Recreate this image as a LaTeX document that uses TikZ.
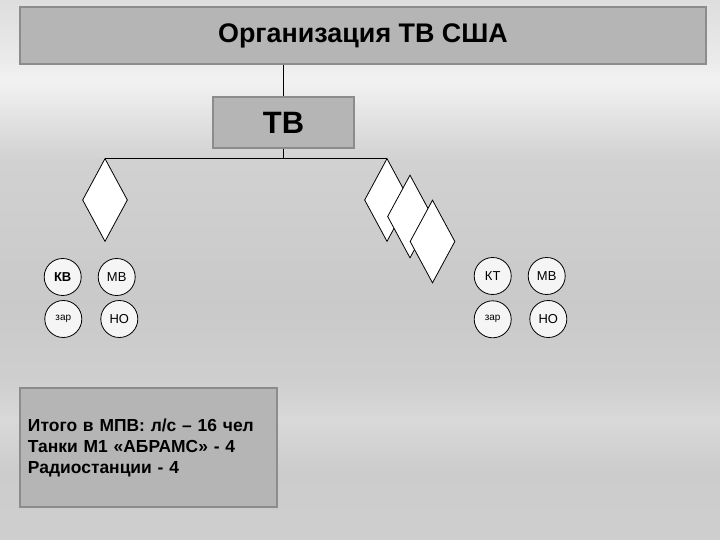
\documentclass[tikz,border=0pt]{standalone}
\usepackage{fontspec}
\setmainfont{Liberation Sans}
\usetikzlibrary{shapes.geometric}
\tikzset{
  graybox/.style={draw=black!45, line width=1.2bp, fill=black!29, inner sep=0pt},
  rhomb/.style={shape=diamond, draw=black, line width=0.8bp, fill=white, minimum width=45bp, minimum height=83bp, inner sep=0pt},
  unit/.style={shape=circle, draw=black, line width=0.8bp, fill=black!4, minimum size=37bp, inner sep=0pt, font=\fontsize{13}{15}\selectfont},
  link/.style={draw=black, line width=0.8bp}
}
\begin{document}
\begin{tikzpicture}[x=1bp, y=-1bp]
\useasboundingbox (0,0) rectangle (720,540);
% background (sky-like vertical gradient drawn as strips)
\foreach \ya/\yb/\ga/\gb in {0/60/0.87/0.92, 60/80/0.92/0.95, 80/110/0.95/0.90, 110/160/0.90/0.82, 160/300/0.82/0.79, 300/380/0.79/0.81, 380/420/0.81/0.85, 420/470/0.85/0.80, 470/540/0.80/0.81}{
  \pgfmathtruncatemacro\n{(\yb-\ya)/2-1}
  \foreach \i in {0,...,\n}{
    \pgfmathsetmacro\g{\ga+(\gb-\ga)*\i/(\n+1)}
    \definecolor{stripc}{gray}{\g}
    \fill[stripc] (0,{\ya+2*\i}) rectangle (720,{\ya+2*\i+2.4});
  }
}
% title
\node[graybox, minimum width=686bp, minimum height=57bp, font=\bfseries\fontsize{27}{30}\selectfont] (title) at (363,35.5) {Организация ТВ США};
% TB box
\node[graybox, minimum width=141bp, minimum height=51bp, font=\bfseries\fontsize{31}{34}\selectfont] (tv) at (283.5,122.5) {ТВ};
% diamonds
\node[rhomb] (d1) at (105,200) {};
\node[rhomb] (r1) at (387,200) {};
\node[rhomb] (r2) at (410,216.5) {};
\node[rhomb] (r3) at (432.5,241.5) {};
% connectors
\draw[link] (tv.north) -- (tv.north |- title.south);
\coordinate (bar) at (tv.south |- d1.north);
\draw[link] (tv.south) -- (bar);
\draw[link] (d1.north) -- (r1.north);
% circles left
\node[unit, font=\bfseries\fontsize{13}{15}\selectfont] (kv) at (62.7,277) {КВ};
\node[unit] (mv1) at (116.7,277) {МВ};
\node[unit, font=\fontsize{10}{12}\selectfont] (zar1) at (63.3,319) {зар};
\node[unit] (no1) at (119.3,319) {НО};
% circles right
\node[unit] (kt) at (492.7,276) {КТ};
\node[unit] (mv2) at (546.7,276) {МВ};
\node[unit, font=\fontsize{10}{12}\selectfont] (zar2) at (492.7,319.3) {зар};
\node[unit] (no2) at (548.3,319) {НО};
% summary box
\node[graybox, minimum width=257bp, minimum height=119bp, text width=241bp, inner xsep=8bp, align=left, font=\bfseries\fontsize{17.5}{21}\selectfont] (sum) at (148.5,447.5) {Итого в МПВ: л/с – 16 чел\\Танки М1 «АБРАМС» - 4\\Радиостанции - 4};
\end{tikzpicture}
\end{document}
